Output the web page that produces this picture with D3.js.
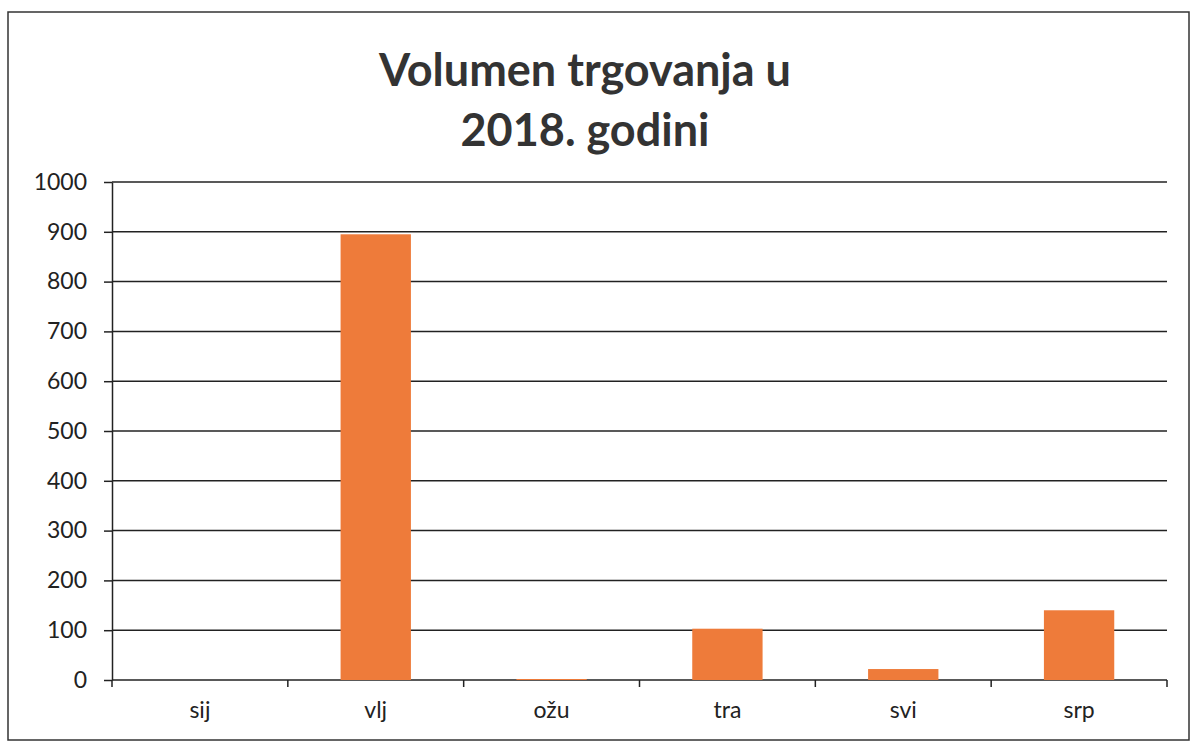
<!DOCTYPE html>
<html>
<head>
<meta charset="utf-8">
<script src="https://cdn.jsdelivr.net/npm/d3@7"></script>
<style>
body { margin: 0; background: #fff; }
svg { display: block; }
</style>
</head>
<body>
<div id="chart"></div>
<script>
const months = ['sij', 'vlj', 'ožu', 'tra', 'svi', 'srp']
const volumes = [0, 895, 2, 103, 22, 140]
const yTicks = [0, 100, 200, 300, 400, 500, 600, 700, 800, 900, 1000]
const titleLines = ['Volumen trgovanja u', '2018. godini']

const width = 1193, height = 744
const margin = {left: 112, right: 26, top: 182, bottom: 64}
const font = 'Lato, "Open Sans", sans-serif'

let svg = d3.select('#chart').append('svg')
.attr('width', width)
.attr('height', height)

// outer frame of the scanned chart
svg.append('rect')
.attr('x', 8).attr('y', 12)
.attr('width', 1181).attr('height', 728)
.attr('fill', 'none')
.attr('stroke', '#333')
.attr('stroke-width', 1.5)

let xScale = d3.scaleBand()
.domain(months)
.range([margin.left, width - margin.right])
.paddingInner(0.6)
.paddingOuter(0.3)

let yScale = d3.scaleLinear()
.domain([0, 1000])
.range([height - margin.bottom, margin.top])

// y axis + labels
let yaxis = svg.append('g')
.attr('transform', `translate(${margin.left},0)`)
.call(d3.axisLeft(yScale)
	.tickValues(yTicks)
	.tickFormat(d3.format('d'))
	.tickSizeInner(8)
	.tickSizeOuter(0)
	.tickPadding(17))

yaxis.select('.domain').attr('stroke', '#222').attr('stroke-width', 1.5)
yaxis.selectAll('.tick line').attr('stroke', '#222').attr('stroke-width', 1.5)
yaxis.selectAll('.tick text')
.attr('fill', '#222')
.style('font-family', font)
.style('font-size', '23px')

// gridlines
svg.append('g')
.selectAll('line')
.data(yTicks)
.enter()
.append('line')
.attr('x1', margin.left)
.attr('x2', width - margin.right)
.attr('y1', d => yScale(d))
.attr('y2', d => yScale(d))
.attr('stroke', '#222')
.attr('stroke-width', 1.5)

// bars
svg.append('g')
.selectAll('rect')
.data(months)
.enter()
.append('rect')
.attr('x', d => xScale(d))
.attr('width', xScale.bandwidth())
.attr('y', (d, i) => yScale(volumes[i]))
.attr('height', (d, i) => yScale(0) - yScale(volumes[i]))
.attr('fill', '#EE7B3A')

// x axis ticks between categories
let step = xScale.step()
let boundaries = d3.range(months.length + 1).map(i => margin.left + step * i)

svg.append('g')
.selectAll('line')
.data(boundaries)
.enter()
.append('line')
.attr('x1', d => d).attr('x2', d => d)
.attr('y1', yScale(0)).attr('y2', yScale(0) + 7)
.attr('stroke', '#222')
.attr('stroke-width', 1.5)

svg.append('g')
.selectAll('text')
.data(months)
.enter()
.append('text')
.attr('x', d => xScale(d) + xScale.bandwidth() / 2)
.attr('y', yScale(0) + 38)
.attr('text-anchor', 'middle')
.attr('fill', '#222')
.style('font-family', font)
.style('font-size', '23px')
.text(d => d)

// title
svg.append('g')
.selectAll('text')
.data(titleLines)
.enter()
.append('text')
.attr('x', 585)
.attr('y', (d, i) => 86 + i * 60)
.attr('text-anchor', 'middle')
.attr('fill', '#333')
.style('font-family', font)
.style('font-weight', 'bold')
.style('font-size', '45px')
.text(d => d)
</script>
</body>
</html>
